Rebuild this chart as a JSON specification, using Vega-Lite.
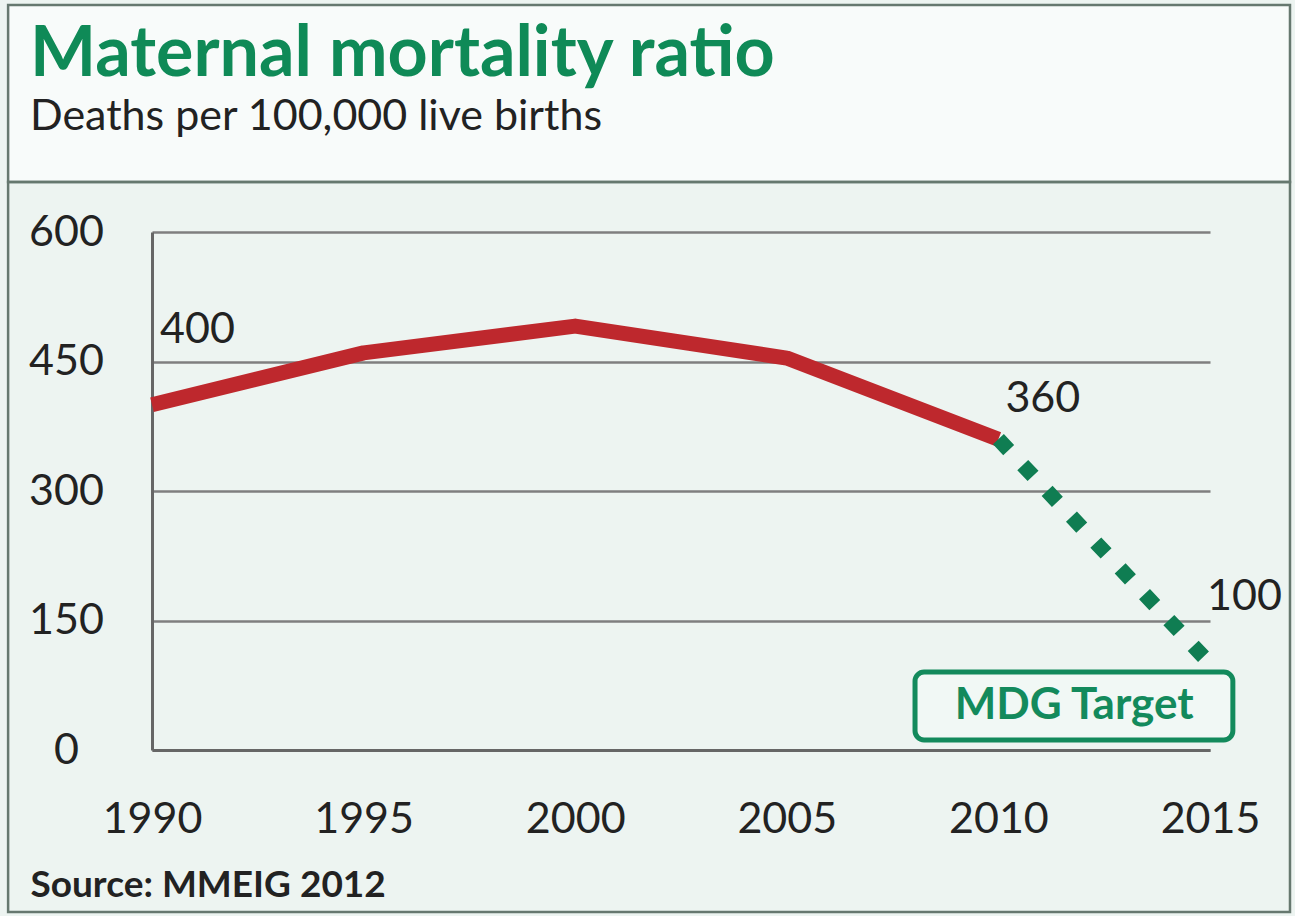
{
  "$schema": "https://vega.github.io/schema/vega-lite/v6.json",
  "autosize": "none",
  "width": 1058,
  "height": 518,
  "padding": {"left": 152, "top": 232, "right": 85, "bottom": 166},
  "background": "#edf4f1",
  "title": {
    "text": "Maternal mortality ratio",
    "subtitle": "Deaths per 100,000 live births",
    "anchor": "start",
    "frame": "group",
    "orient": "top",
    "dx": -122,
    "offset": -136,
    "font": "Lato",
    "fontSize": 70,
    "fontWeight": "bold",
    "color": "#0f8a57",
    "subtitleFont": "Lato",
    "subtitleFontSize": 43,
    "subtitleColor": "#222222",
    "subtitlePadding": 5,
    "zindex": 1
  },
  "config": {"view": {"stroke": null}},
  "datasets": {
    "observed": [
      {"year": 1990, "ratio": 400},
      {"year": 1995, "ratio": 460},
      {"year": 2000, "ratio": 491},
      {"year": 2005, "ratio": 454},
      {"year": 2010, "ratio": 360}
    ],
    "target": [
      {"year": 2010, "ratio": 360},
      {"year": 2015, "ratio": 100}
    ],
    "labels": [
      {"year": 1990, "ratio": 400, "label": "400"},
      {"year": 2010, "ratio": 360, "label": "360"},
      {"year": 2015, "ratio": 100, "label": "100"}
    ],
    "notes": [
      {"note": "MDG Target"}
    ]
  },
  "layer": [
    {
      "data": {"name": "notes"},
      "mark": {"type": "rect", "fill": "#f8fbfa", "stroke": "#66786f", "strokeWidth": 2.5, "clip": false},
      "encoding": {
        "x": {"datum": 1986.6},
        "x2": {"datum": 2016.89},
        "y": {"datum": 657.9},
        "y2": {"datum": 862.9}
      }
    },
    {
      "data": {"name": "notes"},
      "mark": {"type": "rect", "fillOpacity": 0, "stroke": "#66786f", "strokeWidth": 2.5, "clip": false},
      "encoding": {
        "x": {"datum": 1986.6},
        "x2": {"datum": 2016.89},
        "y": {"datum": 657.9},
        "y2": {"datum": -187.6}
      }
    },
    {
      "data": {"name": "observed"},
      "mark": {"type": "line", "color": "#be282d", "strokeWidth": 15, "strokeJoin": "round", "strokeCap": "butt"},
      "encoding": {
        "x": {
          "field": "year",
          "type": "quantitative",
          "scale": {"domain": [1990, 2015], "nice": false, "zero": false},
          "axis": {
            "values": [1990, 1995, 2000, 2005, 2010, 2015],
            "format": "d",
            "grid": false,
            "ticks": false,
            "tickSize": 0,
            "domain": true,
            "domainColor": "#666666",
            "domainWidth": 3,
            "labelFont": "Lato",
            "labelFontSize": 43,
            "labelColor": "#222222",
            "labelPadding": 48,
            "labelBaseline": "top",
            "labelFlush": false,
            "labelOverlap": false,
            "title": "Source: MMEIG 2012",
            "titleFont": "Lato",
            "titleFontSize": 37,
            "titleFontWeight": "bold",
            "titleColor": "#222222",
            "titleAnchor": "start",
            "titleAlign": "left",
            "titleBaseline": "alphabetic",
            "titleX": -122,
            "titleY": 146
          }
        },
        "y": {
          "field": "ratio",
          "type": "quantitative",
          "scale": {"domain": [0, 600], "nice": false},
          "axis": {
            "values": [0, 150, 300, 450, 600],
            "grid": true,
            "gridColor": "#7f7f7f",
            "gridWidth": 2.5,
            "ticks": false,
            "tickSize": 0,
            "domain": true,
            "domainColor": "#666666",
            "domainWidth": 3,
            "labelFont": "Lato",
            "labelFontSize": 43,
            "labelColor": "#222222",
            "labelAlign": "center",
            "labelBaseline": "middle",
            "labelPadding": 86,
            "title": null
          }
        }
      }
    },
    {
      "data": {"name": "target"},
      "mark": {"type": "line", "color": "#0f7d52", "strokeWidth": 15, "strokeDash": [15, 20.5], "strokeCap": "butt"},
      "encoding": {
        "x": {"field": "year", "type": "quantitative"},
        "y": {"field": "ratio", "type": "quantitative"}
      }
    },
    {
      "data": {"name": "labels"},
      "transform": [{"filter": "datum.label == '400'"}],
      "mark": {"type": "text", "font": "Lato", "fontSize": 43, "color": "#222222", "align": "left", "baseline": "alphabetic", "dx": 8, "dy": -62},
      "encoding": {
        "x": {"field": "year", "type": "quantitative"},
        "y": {"field": "ratio", "type": "quantitative"},
        "text": {"field": "label"}
      }
    },
    {
      "data": {"name": "labels"},
      "transform": [{"filter": "datum.label == '360'"}],
      "mark": {"type": "text", "font": "Lato", "fontSize": 43, "color": "#222222", "align": "left", "baseline": "alphabetic", "dx": 7, "dy": -27},
      "encoding": {
        "x": {"field": "year", "type": "quantitative"},
        "y": {"field": "ratio", "type": "quantitative"},
        "text": {"field": "label"}
      }
    },
    {
      "data": {"name": "labels"},
      "transform": [{"filter": "datum.label == '100'"}],
      "mark": {"type": "text", "font": "Lato", "fontSize": 43, "color": "#222222", "align": "left", "baseline": "alphabetic", "dx": -3, "dy": -54},
      "encoding": {
        "x": {"field": "year", "type": "quantitative"},
        "y": {"field": "ratio", "type": "quantitative"},
        "text": {"field": "label"}
      }
    },
    {
      "data": {"name": "notes"},
      "mark": {"type": "rect", "fill": "#f1f8f5", "stroke": "#138a5c", "strokeWidth": 5, "cornerRadius": 9, "clip": false},
      "encoding": {
        "x": {"datum": 2008.03},
        "x2": {"datum": 2015.54},
        "y": {"datum": 11.6},
        "y2": {"datum": 90.3}
      }
    },
    {
      "data": {"name": "notes"},
      "mark": {"type": "text", "font": "Lato", "fontSize": 44, "fontWeight": "bold", "color": "#138a5c", "align": "center", "baseline": "middle"},
      "encoding": {
        "x": {"datum": 2011.79},
        "y": {"datum": 51},
        "text": {"field": "note"}
      }
    }
  ]
}
